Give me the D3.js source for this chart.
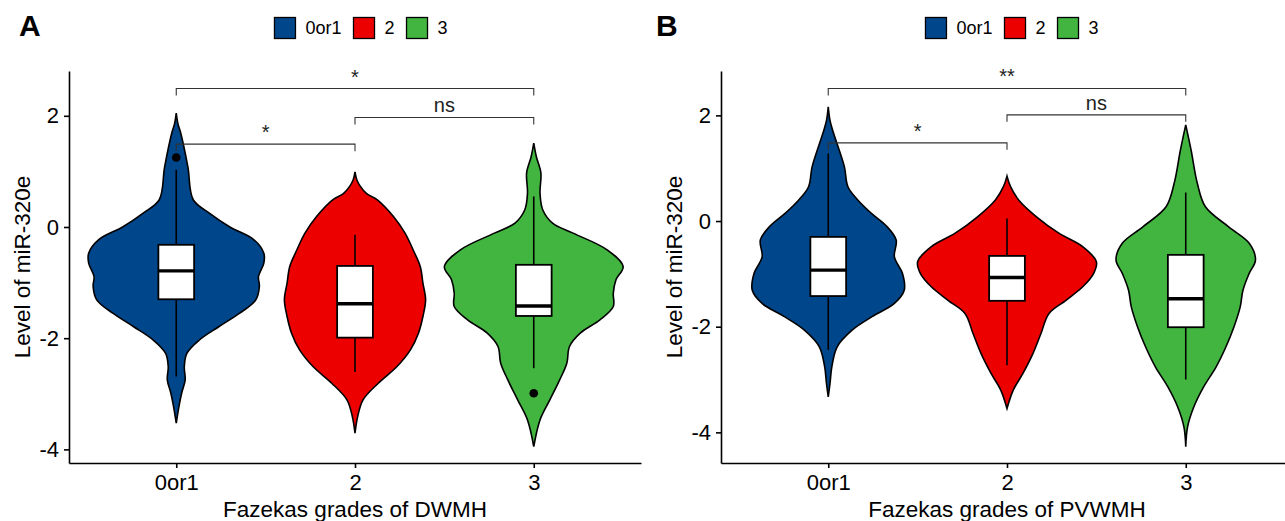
<!DOCTYPE html>
<html>
<head>
<meta charset="utf-8">
<script src="https://cdn.jsdelivr.net/npm/d3@7"></script>
<style>
  body { margin: 0; background: #fff; }
  svg { font-family: "Liberation Sans", Arial, sans-serif; }
</style>
</head>
<body>
<div id="chart"></div>
<script>
const categories = ["0or1", "2", "3"];
const groupColors = ["#00468B", "#ED0000", "#42B540"];
const yTicks = [-4, -2, 0, 2];

// violin outlines: [value, relative density]
const dwmhViolin0or1 = [[2.05, 0], [1.85, 0.02], [1.69, 0.05], [1.08, 0.13], [0.49, 0.19], [0.25, 0.37], [0.0, 0.6], [-0.23, 0.87], [-0.47, 0.98], [-0.65, 0.98], [-0.89, 0.92], [-1.07, 0.93], [-1.31, 0.89], [-1.55, 0.71], [-1.79, 0.48], [-2.03, 0.26], [-2.27, 0.12], [-2.51, 0.09], [-2.75, 0.1], [-2.99, 0.06], [-3.23, 0.03], [-3.53, 0]];
const dwmhViolin2 = [[0.99, 0], [0.85, 0.02], [0.73, 0.06], [0.6, 0.13], [0.49, 0.25], [0.19, 0.43], [-0.11, 0.56], [-0.41, 0.65], [-0.71, 0.73], [-1.01, 0.76], [-1.31, 0.79], [-1.61, 0.76], [-1.91, 0.71], [-2.21, 0.62], [-2.51, 0.47], [-2.81, 0.26], [-3.11, 0.09], [-3.41, 0.03], [-3.71, 0]];
const dwmhViolin3 = [[1.51, 0], [1.26, 0.03], [0.97, 0.08], [0.61, 0.07], [0.31, 0.1], [0.07, 0.21], [-0.11, 0.44], [-0.41, 0.82], [-0.71, 1], [-0.95, 0.92], [-1.19, 0.89], [-1.43, 0.89], [-1.67, 0.74], [-1.91, 0.52], [-2.15, 0.4], [-2.45, 0.37], [-2.75, 0.29], [-3.11, 0.18], [-3.47, 0.07], [-3.95, 0]];
const pvwmhViolin0or1 = [[2.16, 0], [1.9, 0.02], [1.66, 0.06], [1.03, 0.18], [0.65, 0.22], [0.4, 0.33], [0.15, 0.48], [-0.11, 0.66], [-0.36, 0.76], [-0.68, 0.74], [-0.99, 0.83], [-1.31, 0.85], [-1.56, 0.74], [-1.81, 0.49], [-2.06, 0.27], [-2.38, 0.1], [-2.76, 0.04], [-3.07, 0.02], [-3.33, 0]];
const pvwmhViolin2 = [[0.85, 0], [0.65, 0.04], [0.4, 0.13], [0.08, 0.33], [-0.23, 0.58], [-0.49, 0.85], [-0.77, 1], [-0.99, 0.97], [-1.24, 0.85], [-1.5, 0.66], [-1.75, 0.47], [-2.13, 0.38], [-2.51, 0.29], [-2.88, 0.18], [-3.2, 0.07], [-3.55, 0]];
const pvwmhViolin3 = [[1.82, 0], [1.34, 0.06], [0.71, 0.13], [0.27, 0.22], [-0.11, 0.48], [-0.42, 0.71], [-0.74, 0.78], [-0.99, 0.71], [-1.31, 0.64], [-1.62, 0.61], [-2.0, 0.54], [-2.38, 0.45], [-2.76, 0.34], [-3.14, 0.2], [-3.52, 0.09], [-3.9, 0.02], [-4.27, 0]];

// box stats per group
const dwmhBoxes = [
  { q1: -1.30, med: -0.79, q3: -0.32, lo: -2.69, hi: 1.03, out: [1.25] },
  { q1: -1.99, med: -1.38, q3: -0.70, lo: -2.61, hi: -0.14, out: [] },
  { q1: -1.60, med: -1.42, q3: -0.68, lo: -2.54, hi: 0.55, out: [-2.99] }
];
const pvwmhBoxes = [
  { q1: -1.42, med: -0.93, q3: -0.30, lo: -2.44, hi: 1.28, out: [] },
  { q1: -1.51, med: -1.07, q3: -0.66, lo: -2.73, hi: 0.05, out: [] },
  { q1: -2.01, med: -1.47, q3: -0.64, lo: -3.00, hi: 0.54, out: [] }
];

// significance brackets
const dwmhBrackets = [
  { g1: "0or1", g2: "2", y: 1.49, label: "*" },
  { g1: "2", g2: "3", y: 1.97, label: "ns" },
  { g1: "0or1", g2: "3", y: 2.49, label: "*" }
];
const pvwmhBrackets = [
  { g1: "0or1", g2: "2", y: 1.48, label: "*" },
  { g1: "2", g2: "3", y: 2.01, label: "ns" },
  { g1: "0or1", g2: "3", y: 2.51, label: "**" }
];

const width = 1285, height = 521;
const svg = d3.select("#chart").append("svg").attr("width", width).attr("height", height);

function drawPanel(p) {
  const x = d3.scalePoint().domain(categories).range(p.xRange).padding(0.6);
  const y = d3.scaleLinear().domain(p.yDomain).range([463, 71]);
  const color = d3.scaleOrdinal().domain(categories).range(groupColors);
  const half = d3.scaleLinear().domain([0, 1]).range([0, x.step() * 0.5]);
  const boxW = x.step() * 0.2;
  const g = svg.append("g");

  // violins
  const area = d3.area()
    .y((d) => y(d[0]))
    .curve(d3.curveCatmullRom.alpha(0.5));
  p.violins.forEach((v, i) => {
    const cx = x(categories[i]);
    g.append("path")
      .datum(v)
      .attr("d", area.x0((d) => cx - half(d[1])).x1((d) => cx + half(d[1])))
      .attr("fill", color(categories[i]))
      .attr("stroke", "#000")
      .attr("stroke-width", 1.6);
  });

  // boxplots
  const bx = g.selectAll("g.box").data(p.boxes).join("g").attr("class", "box");
  bx.append("line")
    .attr("x1", (d, i) => x(categories[i])).attr("x2", (d, i) => x(categories[i]))
    .attr("y1", (d) => y(d.hi)).attr("y2", (d) => y(d.lo))
    .attr("stroke", "#000").attr("stroke-width", 1.6);
  bx.append("rect")
    .attr("x", (d, i) => x(categories[i]) - boxW / 2)
    .attr("width", boxW)
    .attr("y", (d) => y(d.q3))
    .attr("height", (d) => y(d.q1) - y(d.q3))
    .attr("fill", "#fff").attr("stroke", "#000").attr("stroke-width", 1.8);
  bx.append("line")
    .attr("x1", (d, i) => x(categories[i]) - boxW / 2).attr("x2", (d, i) => x(categories[i]) + boxW / 2)
    .attr("y1", (d) => y(d.med)).attr("y2", (d) => y(d.med))
    .attr("stroke", "#000").attr("stroke-width", 3.4);
  bx.each(function (d, i) {
    d3.select(this).selectAll("circle").data(d.out).join("circle")
      .attr("cx", x(categories[i])).attr("cy", (o) => y(o)).attr("r", 4.3).attr("fill", "#000");
  });

  // brackets
  const tip = 7;
  const br = g.selectAll("g.br").data(p.brackets).join("g").attr("class", "br");
  br.append("path")
    .attr("d", (d) => `M${x(d.g1)},${y(d.y) + tip}V${y(d.y)}H${x(d.g2)}V${y(d.y) + tip}`)
    .attr("fill", "none").attr("stroke", "#333").attr("stroke-width", 1.1);
  br.append("text")
    .attr("x", (d) => (x(d.g1) + x(d.g2)) / 2)
    .attr("y", (d) => y(d.y) - 5)
    .attr("text-anchor", "middle")
    .attr("font-size", 20)
    .attr("fill", "#222")
    .text((d) => d.label);

  // axes
  const yAxis = svg.append("g").attr("transform", `translate(${p.xRange[0]},0)`)
    .call(d3.axisLeft(y).tickValues(yTicks).tickFormat((d) => String(d)).tickSize(5).tickSizeOuter(0).tickPadding(5));
  const xAxis = svg.append("g").attr("transform", "translate(0,463)")
    .call(d3.axisBottom(x).tickSize(5).tickSizeOuter(0).tickPadding(6));
  [xAxis, yAxis].forEach((a) => {
    a.select(".domain").attr("stroke", "#000").attr("stroke-width", 1.6);
    a.selectAll(".tick line").attr("stroke", "#000").attr("stroke-width", 1.6);
    a.selectAll(".tick text").attr("font-size", 22).attr("fill", "#000").attr("font-family", null);
  });

  svg.append("text")
    .attr("x", (p.xRange[0] + p.xRange[1]) / 2)
    .attr("y", 517)
    .attr("text-anchor", "middle")
    .attr("font-size", 22.5)
    .text(p.xTitle);
  svg.append("text")
    .attr("transform", `translate(${p.yTitleX},267) rotate(-90)`)
    .attr("text-anchor", "middle")
    .attr("dy", "0.35em")
    .attr("font-size", 22.5)
    .text("Level of miR-320e");

  // panel tag
  svg.append("text")
    .attr("x", p.tagX).attr("y", 36)
    .attr("font-size", 30).attr("font-weight", "bold")
    .text(p.tag);

  // legend
  const lg = svg.append("g");
  let cursor = 0;
  categories.forEach((c, i) => {
    lg.append("rect").attr("x", cursor).attr("y", -10.5).attr("width", 21).attr("height", 21)
      .attr("fill", color(c)).attr("stroke", "#000").attr("stroke-width", 1.3);
    const t = lg.append("text").attr("x", cursor + 31).attr("y", 0).attr("dy", "0.35em")
      .attr("font-size", 18).text(c);
    cursor += 31 + t.node().getComputedTextLength() + 12;
  });
  const lw = cursor - 12;
  lg.attr("transform", `translate(${p.legendCenter - lw / 2},28)`);
}

drawPanel({
  xRange: [69, 641],
  yDomain: [-4.245, 2.806],
  violins: [dwmhViolin0or1, dwmhViolin2, dwmhViolin3],
  boxes: dwmhBoxes,
  brackets: dwmhBrackets,
  xTitle: "Fazekas grades of DWMH",
  yTitleX: 22,
  tag: "A",
  tagX: 19,
  legendCenter: 361
});

drawPanel({
  xRange: [721, 1293],
  yDomain: [-4.58, 2.84],
  violins: [pvwmhViolin0or1, pvwmhViolin2, pvwmhViolin3],
  boxes: pvwmhBoxes,
  brackets: pvwmhBrackets,
  xTitle: "Fazekas grades of PVWMH",
  yTitleX: 674,
  tag: "B",
  tagX: 656,
  legendCenter: 1012
});
</script>
</body>
</html>
